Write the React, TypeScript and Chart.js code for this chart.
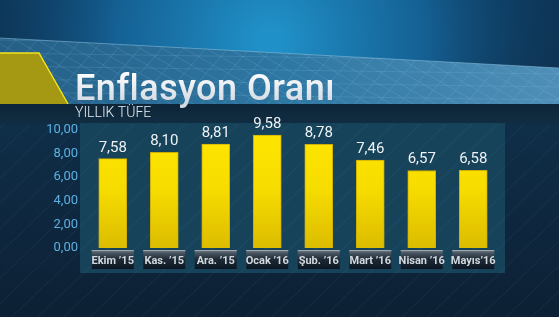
import React, { useEffect, useRef } from "react";
import { Chart, registerables } from "chart.js";

Chart.register(...registerables);

const categories = ["Ekim ’15", "Kas. ’15", "Ara. ’15", "Ocak ’16", "Şub. ’16", "Mart ’16", "Nisan ’16", "Mayıs’16"];
const values = [7.58, 8.1, 8.81, 9.58, 8.78, 7.46, 6.57, 6.58];
const titleText = "Enflasyon Oranı";
const subtitleText = "YILLIK TÜFE";
const yMin = 0;
const yMax = 10;
const yStep = 2;

const fmt = (v: number) => v.toFixed(2).replace(".", ",");

const bgPlugin = {
  id: "tvBackground",
  beforeDraw(chart: any) {
    const { ctx, width, height, chartArea } = chart;
    ctx.save();
    const base = ctx.createLinearGradient(0, 0, 0, height);
    base.addColorStop(0, "#0c3354");
    base.addColorStop(0.4, "#0f2e48");
    base.addColorStop(1, "#0d2034");
    ctx.fillStyle = base;
    ctx.fillRect(0, 0, width, height);
    const rg = ctx.createRadialGradient(270, 40, 10, 270, 40, 330);
    rg.addColorStop(0, "rgba(32,145,200,1)");
    rg.addColorStop(0.45, "rgba(22,105,160,0.85)");
    rg.addColorStop(1, "rgba(12,50,85,0)");
    ctx.fillStyle = rg;
    ctx.fillRect(0, 0, width, 110);

    ctx.beginPath();
    ctx.moveTo(0, 38);
    ctx.lineTo(width, 68);
    ctx.lineTo(width, 104);
    ctx.lineTo(0, 104);
    ctx.closePath();
    const bg = ctx.createLinearGradient(0, 0, width, 0);
    bg.addColorStop(0, "#255f86");
    bg.addColorStop(0.5, "#2e77a3");
    bg.addColorStop(1, "#4f8fb7");
    ctx.fillStyle = bg;
    ctx.fill();
    ctx.save();
    ctx.clip();
    ctx.strokeStyle = "rgba(160,210,240,0.22)";
    ctx.lineWidth = 0.7;
    for (let i = -200; i < width + 200; i += 22) {
      ctx.beginPath();
      ctx.moveTo(i, 110);
      ctx.lineTo(i + 70, 30);
      ctx.stroke();
      ctx.beginPath();
      ctx.moveTo(i, 30);
      ctx.lineTo(i + 140, 110);
      ctx.stroke();
    }
    for (let y = 40; y < 110; y += 13) {
      ctx.beginPath();
      ctx.moveTo(0, y);
      ctx.lineTo(width, y + 8);
      ctx.stroke();
    }
    ctx.restore();
    ctx.strokeStyle = "rgba(150,200,230,0.5)";
    ctx.lineWidth = 1;
    ctx.beginPath();
    ctx.moveTo(0, 38);
    ctx.lineTo(width, 68);
    ctx.stroke();

    ctx.beginPath();
    ctx.moveTo(0, 53);
    ctx.lineTo(39, 53);
    ctx.lineTo(68, 104);
    ctx.lineTo(0, 104);
    ctx.closePath();
    ctx.fillStyle = "#a59813";
    ctx.fill();
    ctx.strokeStyle = "#f2e21c";
    ctx.lineWidth = 1.5;
    ctx.beginPath();
    ctx.moveTo(0, 53);
    ctx.lineTo(39, 53);
    ctx.lineTo(68, 104);
    ctx.stroke();

    const sg = ctx.createLinearGradient(0, 104, 0, 124);
    sg.addColorStop(0, "#0e2538");
    sg.addColorStop(1, "#112d42");
    ctx.fillStyle = sg;
    ctx.fillRect(0, 104, width, 20);

    ctx.save();
    ctx.beginPath();
    ctx.rect(0, 124, width, height - 124);
    ctx.clip();
    ctx.strokeStyle = "rgba(120,170,200,0.10)";
    ctx.lineWidth = 1;
    for (let i = -300; i < width + 300; i += 26) {
      ctx.beginPath();
      ctx.moveTo(i, height);
      ctx.lineTo(i + 200, 124);
      ctx.stroke();
    }
    ctx.restore();

    const pL = chartArea.left - 7;
    const pR = chartArea.right + 6;
    const pT = 123;
    const pB = 273;
    ctx.fillStyle = "#16425a";
    ctx.fillRect(pL, pT, pR - pL, pB - pT);
    ctx.save();
    ctx.beginPath();
    ctx.rect(pL, pT, pR - pL, pB - pT);
    ctx.clip();
    ctx.strokeStyle = "rgba(120,180,210,0.06)";
    for (let i = -300; i < width + 300; i += 26) {
      ctx.beginPath();
      ctx.moveTo(i, height);
      ctx.lineTo(i + 200, 124);
      ctx.stroke();
    }
    ctx.restore();

    const tg = ctx.createLinearGradient(0, 72, 0, 102);
    tg.addColorStop(0, "#ffffff");
    tg.addColorStop(1, "#d4dbe2");
    ctx.fillStyle = tg;
    ctx.font = "500 36px Roboto";
    ctx.textBaseline = "alphabetic";
    ctx.textAlign = "left";
    (ctx as any).letterSpacing = "0.5px";
    ctx.fillText(titleText, 75, 100);
    (ctx as any).letterSpacing = "0px";
    ctx.fillStyle = "#e6ecf0";
    ctx.font = "300 14px Roboto";
    ctx.fillText(subtitleText, 75, 117);

    const xs = chart.scales.x;
    for (let i = 0; i < categories.length; i++) {
      const cx = xs.getPixelForTick(i);
      const bw = 42;
      const bx = cx - bw / 2;
      const by = 250;
      const bh = 19;
      const g = ctx.createLinearGradient(0, by, 0, by + bh);
      g.addColorStop(0, "#7c8790");
      g.addColorStop(0.15, "#4a5661");
      g.addColorStop(0.5, "#1d2a36");
      g.addColorStop(1, "#0b1622");
      ctx.fillStyle = g;
      ctx.fillRect(bx, by, bw, bh);
      ctx.fillStyle = "#9aa5ae";
      ctx.fillRect(bx, by, bw, 1);
    }
    ctx.restore();
  },
  afterDatasetsDraw(chart: any) {
    const { ctx } = chart;
    const meta = chart.getDatasetMeta(0);
    ctx.save();
    ctx.fillStyle = "#eef2f5";
    ctx.font = "400 15px Roboto";
    ctx.textAlign = "center";
    ctx.textBaseline = "alphabetic";
    meta.data.forEach((el: any, i: number) => {
      ctx.fillText(fmt(values[i]), el.x, el.y - 7);
    });
    ctx.restore();
  },
};

export default function App() {
  const ref = useRef<HTMLCanvasElement>(null);
  useEffect(() => {
    document.body.style.margin = "0";
    const canvas = ref.current!;
    const chart = new Chart(canvas, {
      type: "bar",
      data: {
        labels: categories,
        datasets: [
          {
            data: values,
            barThickness: 28,
            borderWidth: 1,
            borderColor: "#cfae00",
            backgroundColor: (c: any) => {
              const ca = c.chart.chartArea;
              if (!ca) return "#f0d400";
              const g = c.chart.ctx.createLinearGradient(0, ca.top, 0, ca.bottom);
              g.addColorStop(0, "#ffe600");
              g.addColorStop(0.5, "#f7dc00");
              g.addColorStop(1, "#dcbc00");
              return g;
            },
          },
        ],
      },
      options: {
        animation: false,
        responsive: false,
        maintainAspectRatio: false,
        layout: { padding: { top: 130, left: 0, right: 60, bottom: 0 } },
        plugins: { legend: { display: false }, tooltip: { enabled: false }, title: { display: false } },
        scales: {
          x: {
            grid: { display: false, drawTicks: false },
            border: { display: false },
            ticks: { color: "#d2d8de", font: { family: "Roboto", weight: "bold", size: 11 }, padding: 7, maxRotation: 0, autoSkip: false },
            afterFit: (s: any) => { s.height = 69; },
          },
          y: {
            min: yMin,
            max: yMax,
            grid: { display: false, drawTicks: false },
            border: { display: false },
            ticks: { stepSize: yStep, color: "#5cb0e2", font: { family: "Roboto", size: 13 }, padding: 9, callback: (v: any) => fmt(Number(v)) },
            afterFit: (s: any) => { s.width = 87; },
          },
        },
      },
      plugins: [bgPlugin],
    });
    return () => chart.destroy();
  }, []);
  return <canvas ref={ref} width={559} height={317} style={{ display: "block" }} />;
}
